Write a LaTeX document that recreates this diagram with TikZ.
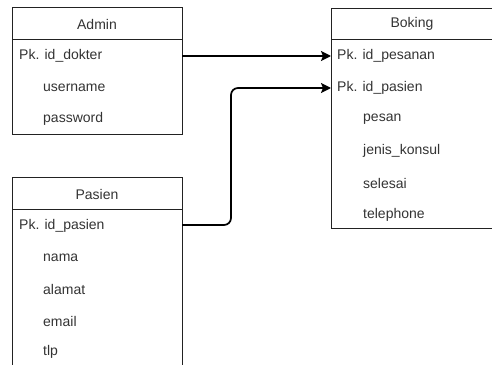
\documentclass[tikz,border=0pt]{standalone}
\usepackage{fontspec}
\setmainfont{Liberation Sans}
\usetikzlibrary{arrows.meta}
\definecolor{txt}{HTML}{333333}
\definecolor{ln}{HTML}{222222}
\tikzset{
  x=1pt, y=-1pt,
  tbl/.style={draw=ln, line width=0.9pt},
  hdr/.style={font=\fontsize{14}{15}\selectfont, text=txt, inner sep=0pt},
  fld/.style={font=\fontsize{14}{15}\selectfont, text=txt, anchor=west, inner sep=0pt},
  rel/.style={draw=black, line width=1.7pt, rounded corners=7pt, -{Stealth[length=10pt,width=10pt,inset=2pt]}}
}
\begin{document}
\begin{tikzpicture}
\useasboundingbox (0,0) rectangle (492,364);
\begin{scope}
\clip (0,0) rectangle (492,364);
% Admin
\draw[tbl] (12,7) rectangle (182,134);
\draw[tbl] (12,39) -- (182,39);
\node[hdr] (adminh) at (97,24) {Admin};
\node[fld] (a1) at (19,56) {Pk. id\_dokter};
\node[fld] (a2) at (43,88) {username};
\node[fld] (a3) at (43,119) {password};
\coordinate (aR) at (182,56);
% Boking
\draw[tbl] (331,8) rectangle (494,228);
\draw[tbl] (331,39) -- (494,39);
\node[hdr] (bokh) at (412,24) {Boking};
\node[fld] (b1) at (337,56) {Pk. id\_pesanan};
\node[fld] (b2) at (337,88) {Pk. id\_pasien};
\node[fld] (b3) at (363,119) {pesan};
\node[fld] (b4) at (363,151) {jenis\_konsul};
\node[fld] (b5) at (363,183) {selesai};
\node[fld] (b6) at (363,215) {telephone};
\coordinate (bL1) at (331,56);
\coordinate (bL2) at (331,88);
% Pasien
\draw[tbl] (12,177) rectangle (182,372);
\draw[tbl] (12,209) -- (182,209);
\node[hdr] (pash) at (97,194) {Pasien};
\node[fld] (p1) at (19,226) {Pk. id\_pasien};
\node[fld] (p2) at (43,258) {nama};
\node[fld] (p3) at (43,289) {alamat};
\node[fld] (p4) at (43,321) {email};
\node[fld] (p5) at (43,352) {tlp};
\coordinate (pR) at (182,225);
\coordinate (mid) at (231,225);
% relations
\draw[rel] (aR) -- (bL1);
\draw[rel] (pR) -- (mid) -- (mid |- bL2) -- (bL2);
\end{scope}
\end{tikzpicture}
\end{document}
